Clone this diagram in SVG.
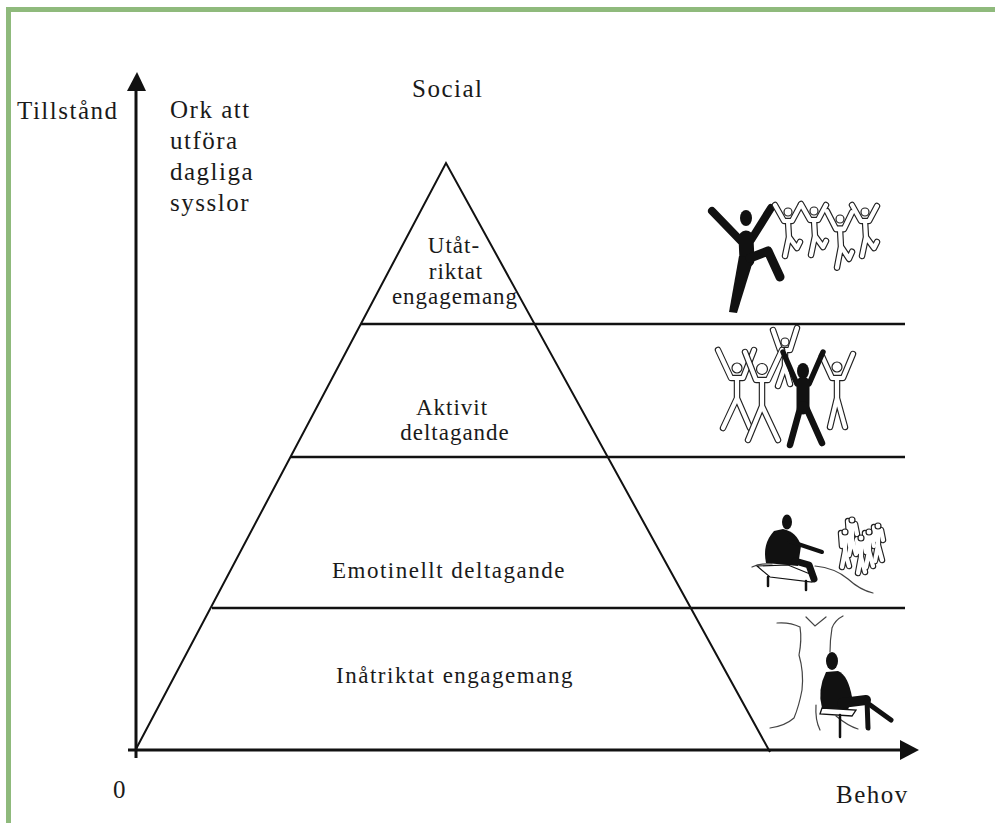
<svg xmlns="http://www.w3.org/2000/svg" xmlns:xlink="http://www.w3.org/1999/xlink" width="995" height="823" viewBox="0 0 995 823">
<style>
.t{font-family:"Liberation Serif","Times New Roman",serif;fill:#1a1a1a}
.side{font-size:25px;letter-spacing:1.5px}
.lvl{font-size:23px;letter-spacing:1px;text-anchor:middle}
.lvl2{font-size:23px;letter-spacing:1.5px;text-anchor:middle}
.ax{stroke:#111;stroke-width:3;fill:none}
.pl{stroke:#111;stroke-width:2;fill:none}
.hl{stroke:#111;stroke-width:2.3;fill:none}
.blk{fill:#111;stroke:none}
.bs{stroke:#111;fill:none;stroke-linecap:round;stroke-linejoin:round}
.ok{stroke:#222;stroke-width:6.5;fill:none;stroke-linecap:round;stroke-linejoin:round}
.ow{stroke:#fff;stroke-width:4.2;fill:none;stroke-linecap:round;stroke-linejoin:round}
.hd{fill:#fff;stroke:#222;stroke-width:1.2}
.sk{stroke:#444;stroke-width:1.2;fill:none;stroke-linecap:round}
</style>
<defs>
<path id="dancer" d="M-13,-7 L-4,9 L4,9 L12,-6 M0,9 L1,26 M-3,44 L1,25 L9,36 L12,30"/>
<path id="mini" d="M0,4 L0,20 M-3,35 L0,19 L4,34 M-4,1 L-3,14 M3,4 L5,14"/>
</defs>
<rect x="0" y="0" width="995" height="823" fill="#fff"/>
<rect id="frame" x="8.5" y="9.5" width="1000" height="840" fill="none" stroke="#8fba7c" stroke-width="5"/>

<g id="connectors">
  <line class="ax" x1="136" y1="758" x2="136" y2="88"/>
  <polygon class="blk" points="127,91 146,91 137,72"/>
  <line class="ax" x1="128" y1="750" x2="903" y2="750"/>
  <polygon class="blk" points="900,740 900,760 919,750"/>
</g>

<g id="pyramid">
  <polyline class="pl" points="136,749 446,163 770,752"/>
  <line class="hl" x1="361" y1="324" x2="905" y2="324"/>
  <line class="hl" x1="291" y1="457" x2="905" y2="457"/>
  <line class="hl" x1="212" y1="608" x2="905" y2="608"/>
</g>

<g id="axis-labels">
  <text class="t side" x="17" y="119">Tillstånd</text>
  <text class="t side" x="120" y="798" text-anchor="middle">0</text>
  <text class="t side" x="836" y="803">Behov</text>
  <text class="t side" x="412" y="97">Social</text>
</g>
<g id="ork">
  <text class="t side" x="170" y="118">Ork att</text>
  <text class="t side" x="170" y="149">utföra</text>
  <text class="t side" x="170" y="180">dagliga</text>
  <text class="t side" x="170" y="211">sysslor</text>
</g>

<g id="level-utatriktat">
  <text class="t lvl" x="454" y="253">Utåt-</text>
  <text class="t lvl" x="456" y="279">riktat</text>
  <text class="t lvl" x="455" y="304">engagemang</text>
</g>
<g id="level-aktivt">
  <text class="t lvl" x="452" y="415">Aktivit</text>
  <text class="t lvl" x="455" y="440">deltagande</text>
</g>
<g id="level-emotionellt">
  <text class="t lvl2" x="449" y="578">Emotinellt deltagande</text>
</g>
<g id="level-inatriktat">
  <text class="t lvl2" x="455" y="683">Inåtriktat engagemang</text>
</g>

<g id="fig-utat">
  <ellipse class="blk" cx="746" cy="218" rx="6" ry="8"/>
  <path class="bs" stroke-width="8" d="M712,211 L741,241 M771,208 L751,240"/>
  <path class="bs" stroke-width="15" d="M746,238 L747,260"/>
  <polygon class="blk" points="739,256 754,258 737,313 729,312"/>
  <path class="bs" stroke-width="9" d="M750,258 L768,251 L780,277"/>
  <g>
    <use xlink:href="#dancer" class="ok" transform="translate(788,212)"/>
    <use xlink:href="#dancer" class="ok" transform="translate(814,211)"/>
    <use xlink:href="#dancer" class="ok" transform="translate(840,219) scale(1,1.1)"/>
    <use xlink:href="#dancer" class="ok" transform="translate(865,212)"/>
    <use xlink:href="#dancer" class="ow" transform="translate(788,212)"/>
    <use xlink:href="#dancer" class="ow" transform="translate(814,211)"/>
    <use xlink:href="#dancer" class="ow" transform="translate(840,219) scale(1,1.1)"/>
    <use xlink:href="#dancer" class="ow" transform="translate(865,212)"/>
    <circle class="hd" cx="788" cy="212" r="4"/>
    <circle class="hd" cx="814" cy="211" r="4"/>
    <circle class="hd" cx="840" cy="219" r="4"/>
    <circle class="hd" cx="865" cy="212" r="4"/>
  </g>
</g>

<g id="fig-aktivt">
  <path class="ok" d="M773,330 L780,350 L790,350 L797,328 M785,350 L785,368 M778,386 L785,366 L790,384"/>
  <path class="ow" d="M773,330 L780,350 L790,350 L797,328 M785,350 L785,368 M778,386 L785,366 L790,384"/>
  <circle class="hd" cx="785" cy="342" r="4"/>
  <path class="ok" d="M718,350 L731,378 L743,378 L754,350 M737,378 L737,400 M723,428 L737,398 L750,428"/>
  <path class="ow" d="M718,350 L731,378 L743,378 L754,350 M737,378 L737,400 M723,428 L737,398 L750,428"/>
  <circle class="hd" cx="737" cy="368" r="5"/>
  <path class="ok" d="M745,352 L756,380 L768,380 L782,350 M762,380 L762,408 M748,440 L762,406 L778,440"/>
  <path class="ow" d="M745,352 L756,380 L768,380 L782,350 M762,380 L762,408 M748,440 L762,406 L778,440"/>
  <circle class="hd" cx="762" cy="369" r="5.5"/>
  <path class="ok" d="M822,356 L832,378 L843,378 L853,354 M837,378 L837,400 M830,427 L837,398 L845,427"/>
  <path class="ow" d="M822,356 L832,378 L843,378 L853,354 M837,378 L837,400 M830,427 L837,398 L845,427"/>
  <circle class="hd" cx="837" cy="367" r="5"/>
  <ellipse class="blk" cx="803" cy="371" rx="6" ry="8"/>
  <path class="bs" stroke-width="5.5" d="M783,352 L797,384 L809,384 L823,352"/>
  <path class="bs" stroke-width="13" d="M803,383 L803,408"/>
  <path class="bs" stroke-width="6.5" d="M790,445 L801,405 L805,405 L822,443"/>
</g>

<g id="fig-emotionellt">
  <path class="sk" d="M752,567 Q760,563 772,564 M815,566 Q835,568 848,579 Q860,590 873,593"/>
  <polygon points="757,566 788,565 815,576 812,582 770,577" fill="#fff" stroke="#111" stroke-width="1.2"/>
  <path class="bs" stroke-width="2.5" d="M768,577 L768,586 M806,581 L806,590"/>
  <ellipse class="blk" cx="787" cy="522" rx="5" ry="7.5"/>
  <path class="blk" d="M774,531 Q762,544 766,563 L798,566 L801,546 Q797,532 783,529 Z"/>
  <path class="bs" stroke-width="4" d="M789,541 L822,552"/>
  <path class="bs" stroke-width="7" d="M795,561 L809,565 L814,579"/>
  <g>
    <use xlink:href="#mini" class="ok" stroke-width="4" transform="translate(852,520)"/>
    <use xlink:href="#mini" class="ok" stroke-width="4" transform="translate(845,532)"/>
    <use xlink:href="#mini" class="ok" stroke-width="4" transform="translate(861,538)"/>
    <use xlink:href="#mini" class="ok" stroke-width="4" transform="translate(869,532)"/>
    <use xlink:href="#mini" class="ok" stroke-width="4" transform="translate(878,526)"/>
    <use xlink:href="#mini" class="ow" stroke-width="2.2" transform="translate(852,520)"/>
    <use xlink:href="#mini" class="ow" stroke-width="2.2" transform="translate(845,532)"/>
    <use xlink:href="#mini" class="ow" stroke-width="2.2" transform="translate(861,538)"/>
    <use xlink:href="#mini" class="ow" stroke-width="2.2" transform="translate(869,532)"/>
    <use xlink:href="#mini" class="ow" stroke-width="2.2" transform="translate(878,526)"/>
    <circle class="hd" cx="852" cy="520" r="3"/>
    <circle class="hd" cx="845" cy="532" r="3"/>
    <circle class="hd" cx="861" cy="538" r="3"/>
    <circle class="hd" cx="869" cy="532" r="3"/>
    <circle class="hd" cx="878" cy="526" r="3"/>
  </g>
</g>

<g id="fig-inatriktat">
  <path class="sk" d="M777,623 Q790,622 800,627 Q802,640 799,655 Q804,672 802,690 Q799,706 794,718 Q785,726 770,728"/>
  <path class="sk" d="M806,617 L815,626 L826,617"/>
  <path class="sk" d="M843,616 Q835,620 832,628 Q830,640 830,652"/>
  <path class="sk" d="M816,705 Q815,720 820,730 M836,716 Q848,726 858,729"/>
  <ellipse class="blk" cx="832" cy="661" rx="6" ry="9"/>
  <path class="blk" d="M826,672 Q817,690 822,708 L848,710 L852,697 Q848,675 838,671 Z"/>
  <path class="bs" stroke-width="10" d="M842,703 L866,700"/>
  <path class="bs" stroke-width="5" d="M867,700 L868,728"/>
  <path class="bs" stroke-width="5" d="M866,702 L891,720"/>
  <polygon points="822,708 856,710 852,716 820,714" fill="#fff" stroke="#111" stroke-width="1.3"/>
  <path class="bs" stroke-width="2.5" d="M840,715 L840,737"/>
</g>
</svg>
